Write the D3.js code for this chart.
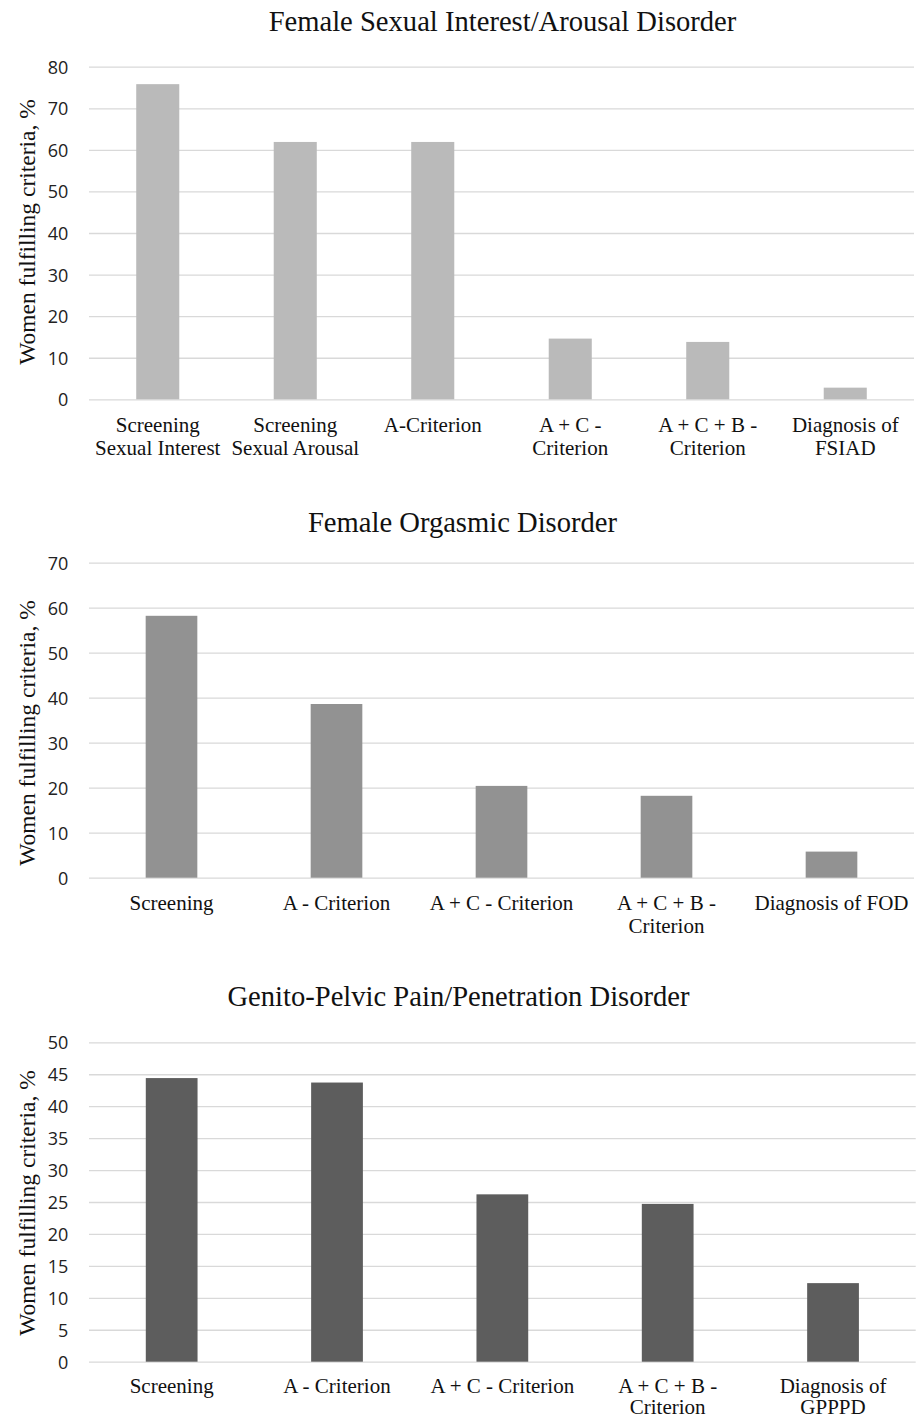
<!DOCTYPE html>
<html>
<head>
<meta charset="utf-8">
<script src="https://cdn.jsdelivr.net/npm/d3@7"></script>
<style>
  html, body { margin: 0; padding: 0; background: #fff; }
  svg { display: block; }
</style>
</head>
<body>
<svg id="chart" width="920" height="1420"></svg>
<script>
// ---------- DATA ----------
const titles = [
  "Female Sexual Interest/Arousal Disorder",
  "Female Orgasmic Disorder",
  "Genito-Pelvic Pain/Penetration Disorder"
];
const yAxisLabel = "Women fulfilling criteria, %";

const categories1 = [
  ["Screening", "Sexual Interest"],
  ["Screening", "Sexual Arousal"],
  ["A-Criterion"],
  ["A + C -", "Criterion"],
  ["A + C + B -", "Criterion"],
  ["Diagnosis of", "FSIAD"]
];
const values1 = [75.8, 61.9, 61.9, 14.6, 13.8, 2.8];
const ticks1 = [0, 10, 20, 30, 40, 50, 60, 70, 80];

const categories2 = [
  ["Screening"],
  ["A - Criterion"],
  ["A + C - Criterion"],
  ["A + C + B -", "Criterion"],
  ["Diagnosis of FOD"]
];
const values2 = [58.2, 38.6, 20.4, 18.2, 5.8];
const ticks2 = [0, 10, 20, 30, 40, 50, 60, 70];

const categories3 = [
  ["Screening"],
  ["A - Criterion"],
  ["A + C - Criterion"],
  ["A + C + B -", "Criterion"],
  ["Diagnosis of", "GPPPD"]
];
const values3 = [44.4, 43.7, 26.2, 24.7, 12.3];
const ticks3 = [0, 5, 10, 15, 20, 25, 30, 35, 40, 45, 50];

// ---------- LAYOUT / STYLE ----------
const panels = [
  { title: titles[0], cats: categories1, vals: values1, ticks: ticks1,
    color: "#bababa", top: 66.7, bottom: 399.3, left: 89, right: 914,
    titleX: 502.5, titleY: 30.7, ylabX: 35, ylabY: 232, lab1: 32.3, lineH: 23 },
  { title: titles[1], cats: categories2, vals: values2, ticks: ticks2,
    color: "#929292", top: 562.7, bottom: 877.7, left: 89, right: 914,
    titleX: 462.5, titleY: 532.3, ylabX: 35, ylabY: 733, lab1: 32.3, lineH: 23 },
  { title: titles[2], cats: categories3, vals: values3, ticks: ticks3,
    color: "#5d5d5d", top: 1042.3, bottom: 1361.7, left: 89, right: 915.7,
    titleX: 458.5, titleY: 1006, ylabX: 35, ylabY: 1203, lab1: 31, lineH: 21.5 }
];

const serif = "'Liberation Serif', 'Times New Roman', serif";
const sans = "'Open Sans', 'Noto Sans', sans-serif";
const svg = d3.select("#chart");

panels.forEach(p => {
  const g = svg.append("g");
  const labels = p.cats.map(c => c.join(" "));
  const x = d3.scaleBand().domain(labels).range([p.left, p.right]).padding(0);
  const y = d3.scaleLinear()
    .domain([0, d3.max(p.ticks)])
    .range([p.bottom, p.top]);

  // gridlines via axis
  const grid = d3.axisLeft(y).tickValues(p.ticks)
    .tickSize(-(p.right - p.left)).tickFormat("");
  const gg = g.append("g").attr("transform", `translate(${p.left},0)`).call(grid);
  gg.select(".domain").remove();
  gg.selectAll("line").attr("stroke", "#d9d9d9").attr("stroke-width", 1.3);

  // y tick labels via axis
  const yAx = d3.axisLeft(y).tickValues(p.ticks).tickSize(0).tickPadding(0)
    .tickFormat(d3.format("d"));
  const ya = g.append("g").attr("transform", `translate(${p.left - 20.7},0)`).call(yAx);
  ya.select(".domain").remove();
  ya.selectAll("text")
    .attr("font-family", sans).attr("font-size", 18).attr("fill", "#222")
    .attr("dy", "0.36em");

  // bars
  const bw = x.bandwidth() * 0.313;
  g.selectAll("rect.bar").data(p.vals).join("rect")
    .attr("class", "bar")
    .attr("x", (d, i) => x(labels[i]) + (x.bandwidth() - bw) / 2)
    .attr("width", bw)
    .attr("y", d => y(d))
    .attr("height", d => y(0) - y(d))
    .attr("fill", p.color);

  // x category labels
  const xl = g.append("g");
  p.cats.forEach((lines, i) => {
    const t = xl.append("text")
      .attr("x", x(labels[i]) + x.bandwidth() / 2)
      .attr("y", y(0) + p.lab1)
      .attr("text-anchor", "middle")
      .attr("font-family", serif).attr("font-size", 21).attr("fill", "#111");
    lines.forEach((ln, j) => {
      t.append("tspan").attr("x", x(labels[i]) + x.bandwidth() / 2)
        .attr("dy", j === 0 ? 0 : p.lineH).text(ln);
    });
  });

  // title
  g.append("text").attr("x", p.titleX).attr("y", p.titleY)
    .attr("text-anchor", "middle")
    .attr("font-family", serif).attr("font-size", 28.6).attr("fill", "#111")
    .text(p.title);

  // y axis label
  g.append("text")
    .attr("transform", `translate(${p.ylabX},${p.ylabY}) rotate(-90)`)
    .attr("text-anchor", "middle")
    .attr("font-family", serif).attr("font-size", 23.5).attr("fill", "#111")
    .text(yAxisLabel);
});
</script>
</body>
</html>
